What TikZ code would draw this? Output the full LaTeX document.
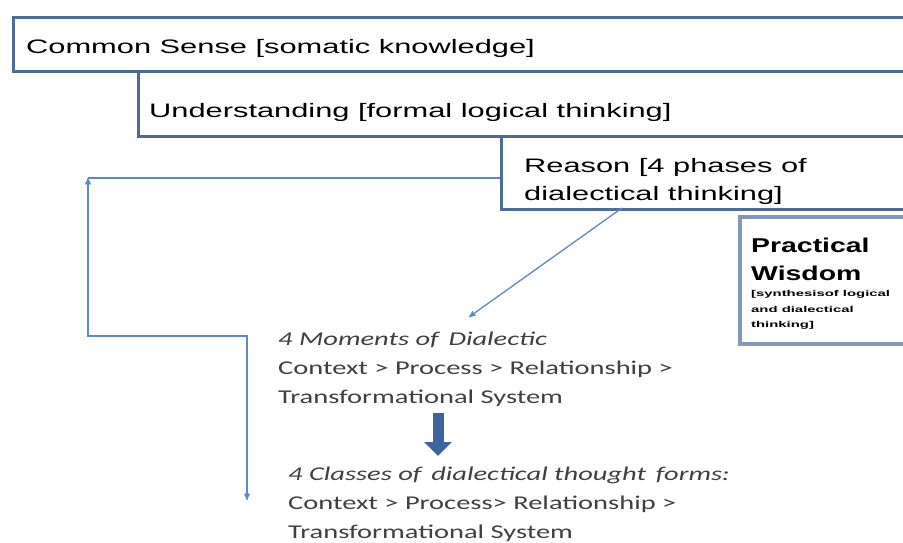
\documentclass[tikz,border=0pt]{standalone}
\usepackage{fontspec}
\setmainfont{Liberation Sans}
\newfontfamily\boxfont[FakeStretch=1.58]{Liberation Sans}
\newfontfamily\wisdomfont[FakeStretch=1.42]{Liberation Sans}
\newfontfamily\smallfont[FakeStretch=1.75]{Liberation Sans}
\newfontfamily\notefont[FakeStretch=1.46]{Carlito}
\usetikzlibrary{positioning, arrows, arrows.meta}
\definecolor{boxblue}{HTML}{4D6C9C}
\definecolor{paleblue}{HTML}{8498BE}
\definecolor{linkblue}{HTML}{5F89C6}
\definecolor{fatblue}{HTML}{3F63A0}
\definecolor{notegray}{HTML}{404040}
\tikzset{
>=stealth', % small heads on the thin connectors
layer/.style={draw=boxblue, line width=3pt, fill=white, anchor=north west, inner sep=0pt}, % the stepped boxes
layertext/.style={anchor=base west, inner sep=0pt, font=\boxfont\fontsize{19.5}{24}\selectfont},
notetext/.style={anchor=base west, inner sep=0pt, text=notegray, font=\notefont\fontsize{19.5}{22}\selectfont},
link/.style={draw=linkblue, line width=1.3pt},
fatarrow/.style={draw=fatblue, line width=11pt, -{Triangle[width=27pt,length=14pt]}},
}
\begin{document}
\begin{tikzpicture}[x=1pt, y=-1pt]
        \clip (0,0) rectangle (903,542);
        \fill[white] (0,0) rectangle (903,542);

        % the three stepped boxes
        \node[layer, minimum width=920pt, minimum height=54pt] (common) at (12,16) {};
        \node[layer, minimum width=800pt, minimum height=65pt] (understanding) at (137,70) {};
        \node[layer, minimum width=450pt, minimum height=73pt] (reason) at (500,135) {};
        \node[layer, draw=paleblue, line width=3.5pt, minimum width=200pt, minimum height=127pt] (wisdom) at (738,215) {};

        \node[layertext] (commontext) at (26,53) {Common Sense [somatic knowledge]};
        \node[layertext] (understandingtext) at (149,117) {Understanding [formal logical thinking]};
        \node[layertext] (reasontext) at (524,172) {Reason [4 phases of};
        \node[layertext] (reasontext2) at (524,200) {dialectical thinking]};

        \node[layertext, font=\wisdomfont\bfseries\fontsize{20}{24}\selectfont] (wisdomtext) at (751,252) {Practical};
        \node[layertext, font=\wisdomfont\bfseries\fontsize{20}{24}\selectfont] (wisdomtext2) at (751,280) {Wisdom};
        \node[layertext, font=\smallfont\bfseries\fontsize{8.5}{9}\selectfont] (wisdomnote) at (751,296) {[synthesisof logical};
        \node[layertext, font=\smallfont\bfseries\fontsize{8.5}{9}\selectfont] (wisdomnote2) at (751,312) {and dialectical};
        \node[layertext, font=\smallfont\bfseries\fontsize{8.5}{9}\selectfont] (wisdomnote3) at (751,327) {thinking]};

        % moments and classes
        \node[notetext] (moments) at (278,345) {\itshape 4 Moments of\, Dialectic};
        \node[notetext] (moments2) at (278,374) {Context > Process > Relationship >};
        \node[notetext] (moments3) at (278,403) {Transformational System};

        \node[notetext] (classes) at (288,480) {\itshape 4 Classes of\, dialectical thought\, forms:};
        \node[notetext] (classes2) at (288,509) {Context > Process> Relationship >};
        \node[notetext] (classes3) at (288,538) {Transformational System};

        % connectors
        \coordinate (turnA) at (88,178);
        \coordinate (turnB) at (88,336);
        \coordinate (dropend) at (247,500);
        \coordinate (reasonfoot) at (622,208);
        \coordinate (momentstip) at (469,317);
        \coordinate (fattop) at (438,413);
        \coordinate (fatend) at (438,456);

        \draw[link, <->] (dropend) |- (turnB) -- (turnA);
        \draw[link] (turnA) -- (turnA -| reason.west);
        \draw[link, ->] (reasonfoot) -- (momentstip);
        \draw[fatarrow] (fattop) -- (fatend);
\end{tikzpicture}
\end{document}
